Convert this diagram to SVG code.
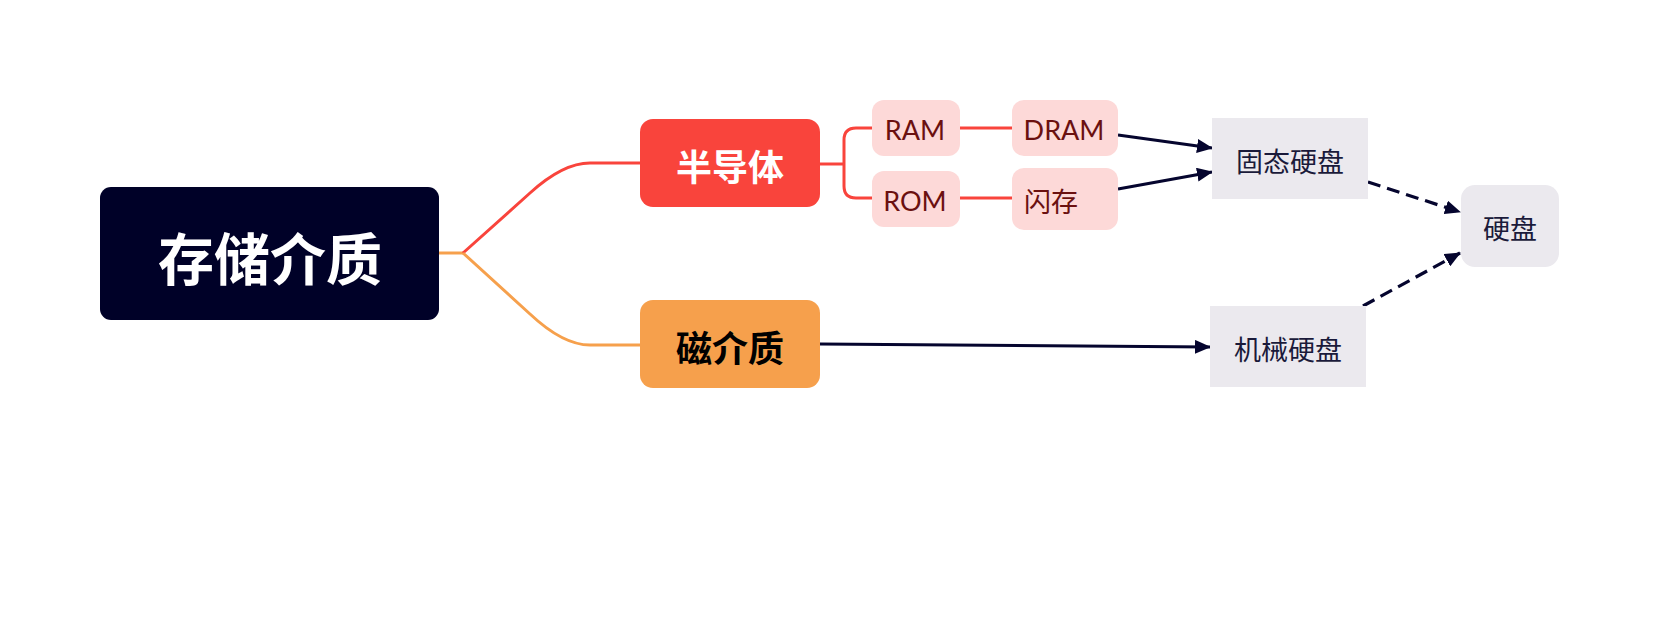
<svg xmlns="http://www.w3.org/2000/svg" width="1660" height="633" viewBox="0 0 1660 633">
<style>
.cjk{font-family:"Noto Sans CJK SC","Noto Sans",sans-serif}
.lat{font-family:Lato,"Noto Sans CJK SC",sans-serif}
.mid{text-anchor:middle;dominant-baseline:central}
.sub{fill:#fdd9d8}
.subt{fill:#6b1010;font-size:27px}
.leaf{fill:#ebe9ee}
.leaft{fill:#1a1a3a;font-size:27px}
.edge{fill:none;stroke-width:3}
.arr{fill:none;stroke:#05052e;stroke-width:3.2}
</style>
<defs>
<marker id="ah" markerUnits="userSpaceOnUse" markerWidth="16" markerHeight="14" refX="15" refY="7" orient="auto">
<path d="M0,0 L16,7 L0,14 Z" fill="#05052e"/>
</marker>
</defs>
<g id="connectors">
<path class="edge" stroke="#f6a04c" d="M439 253 H463"/>
<path class="edge" stroke="#f9443c" d="M463 253 L530 193 Q563 163 590 163 H640"/>
<path class="edge" stroke="#f6a04c" d="M463 253 L530 314 Q563 345 590 345 H640"/>
<path class="edge" stroke="#f9443c" d="M820 164 H844"/>
<path class="edge" stroke="#f9443c" d="M872 128 H856 Q844 128 844 140 V186 Q844 198 856 198 H872"/>
<path class="edge" stroke="#f9443c" d="M960 128 H1012"/>
<path class="edge" stroke="#f9443c" d="M960 198 H1012"/>
<path class="arr" marker-end="url(#ah)" d="M1118 135 L1212 148"/>
<path class="arr" marker-end="url(#ah)" d="M1118 189 L1212 172"/>
<path class="arr" marker-end="url(#ah)" d="M820 344 L1210 347"/>
<path class="arr" marker-end="url(#ah)" stroke-dasharray="13 7" d="M1368 182 L1460 212"/>
<path class="arr" marker-end="url(#ah)" stroke-dasharray="13 7" d="M1363 306 L1460 253"/>
</g>
<g id="root">
<rect x="100" y="187" width="339" height="133" rx="11" fill="#000128"/>
<text class="cjk mid" x="270" y="255" font-size="56" font-weight="bold" fill="#fff">存储介质</text>
</g>
<g id="semi">
<rect x="640" y="119" width="180" height="88" rx="13" fill="#f9443c"/>
<text class="cjk mid" x="730" y="165" font-size="36" font-weight="bold" fill="#fff">半导体</text>
</g>
<g id="magnetic">
<rect x="640" y="300" width="180" height="88" rx="13" fill="#f6a04c"/>
<text class="cjk mid" x="730" y="346" font-size="36" font-weight="bold" fill="#000">磁介质</text>
</g>
<g id="ram">
<rect class="sub" x="872" y="100" width="88" height="56" rx="12"/>
<text class="lat mid subt" x="915" y="129">RAM</text>
</g>
<g id="rom">
<rect class="sub" x="872" y="171" width="88" height="56" rx="12"/>
<text class="lat mid subt" x="915" y="200">ROM</text>
</g>
<g id="dram">
<rect class="sub" x="1012" y="100" width="106" height="56" rx="12"/>
<text class="lat mid subt" x="1064" y="129">DRAM</text>
</g>
<g id="flash">
<rect class="sub" x="1012" y="168" width="106" height="62" rx="12"/>
<text class="cjk subt" x="1024" y="200" dominant-baseline="central">闪存</text>
</g>
<g id="ssd">
<rect class="leaf" x="1212" y="118" width="156" height="81"/>
<text class="cjk mid leaft" x="1290" y="160">固态硬盘</text>
</g>
<g id="hdd">
<rect class="leaf" x="1210" y="306" width="156" height="81"/>
<text class="cjk mid leaft" x="1288" y="348">机械硬盘</text>
</g>
<g id="disk">
<rect class="leaf" x="1461" y="185" width="98" height="82" rx="14"/>
<text class="cjk mid leaft" x="1510" y="227">硬盘</text>
</g>
</svg>
